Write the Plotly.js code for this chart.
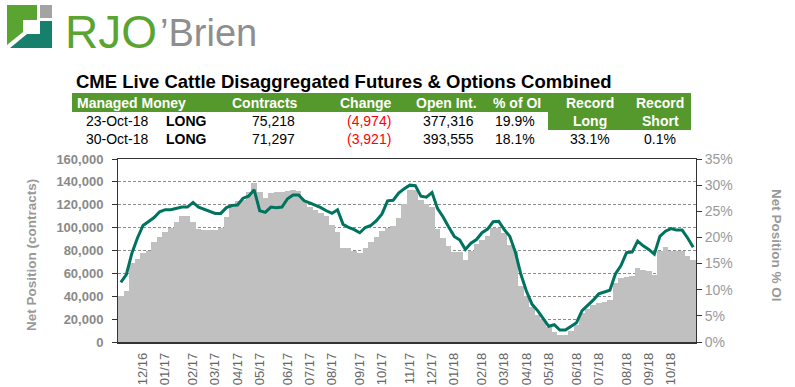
<!DOCTYPE html>
<html>
<head>
<meta charset="utf-8">
<script src="https://cdn.plot.ly/plotly-3.0.1.min.js"></script>
<style>
html,body{margin:0;padding:0;background:#fff;}
#chart{width:795px;height:387px;}
</style>
</head>
<body>
<div id="chart"></div>
<script>
// ---------- DATA ----------
const weekDates = [
'2016-11-08','2016-11-15','2016-11-22','2016-11-29','2016-12-06','2016-12-13','2016-12-20','2016-12-27',
'2017-01-03','2017-01-10','2017-01-17','2017-01-24','2017-01-31','2017-02-07','2017-02-14','2017-02-21','2017-02-28',
'2017-03-07','2017-03-14','2017-03-21','2017-03-28','2017-04-04','2017-04-11','2017-04-18','2017-04-25',
'2017-05-02','2017-05-09','2017-05-16','2017-05-23','2017-05-30','2017-06-06','2017-06-13','2017-06-20','2017-06-27',
'2017-07-04','2017-07-11','2017-07-18','2017-07-25','2017-08-01','2017-08-08','2017-08-15','2017-08-22','2017-08-29',
'2017-09-05','2017-09-12','2017-09-19','2017-09-26','2017-10-03','2017-10-10','2017-10-17','2017-10-24','2017-10-31',
'2017-11-07','2017-11-14','2017-11-21','2017-11-28','2017-12-05','2017-12-12','2017-12-19','2017-12-26',
'2018-01-02','2018-01-09','2018-01-16','2018-01-23','2018-01-30','2018-02-06','2018-02-13','2018-02-20','2018-02-27',
'2018-03-06','2018-03-13','2018-03-20','2018-03-27','2018-04-03','2018-04-10','2018-04-17','2018-04-24',
'2018-05-01','2018-05-08','2018-05-15','2018-05-22','2018-05-29','2018-06-05','2018-06-12','2018-06-19','2018-06-26',
'2018-07-03','2018-07-10','2018-07-17','2018-07-24','2018-07-31','2018-08-07','2018-08-14','2018-08-21','2018-08-28',
'2018-09-04','2018-09-11','2018-09-18','2018-09-25','2018-10-02','2018-10-09','2018-10-16','2018-10-23','2018-10-30'
];

// Net position (contracts)
const netContracts = [
40500,45000,69000,73000,78000,80000,87000,92000,
96000,100000,105000,110000,110000,105000,99000,98000,98000,
98000,100000,109000,118000,123000,124000,131000,139000,
131000,126000,130000,131000,131000,132000,133000,132000,124000,
118000,115000,113000,110000,102000,96000,82000,82000,80000,
78000,82000,87000,92000,97000,100000,101000,108000,121000,
133000,133000,124000,121000,118000,99000,91000,84000,
79000,79000,72000,80000,86000,89000,93000,100000,100000,
95000,85000,80000,49000,40000,31000,24000,20000,
13000,9000,6000,6000,10000,15000,25000,29000,32000,
34000,35000,37000,52000,56000,57000,58000,65000,63000,
62000,59000,80000,83000,80000,80000,80000,75218,71297
];

// Net position as % of open interest
const pctOI = [
11.4,12.9,17.0,19.9,22.3,23.0,23.8,24.9,
25.3,25.3,25.6,25.8,25.8,26.7,25.8,25.4,24.9,
24.6,24.6,25.7,26.1,26.2,27.5,27.9,29.1,
25.1,24.8,25.8,25.7,25.8,27.4,28.1,28.1,27.0,
26.6,26.2,25.7,25.1,24.6,25.3,22.5,21.9,21.5,
20.9,21.9,22.3,23.2,24.5,27.0,27.1,28.5,29.3,
30.0,29.9,27.9,27.7,28.6,25.5,23.9,22.0,
20.2,19.5,17.7,18.9,19.6,20.9,21.6,23.0,23.1,
21.5,20.2,17.2,12.9,9.7,7.2,6.0,4.5,
3.0,3.3,2.3,2.3,3.0,3.7,6.0,7.0,8.0,
9.2,9.5,9.9,13.0,14.6,17.1,17.2,19.3,18.4,
17.7,16.8,20.2,21.2,21.7,21.4,21.4,19.9,18.1
];

const tickDates = ['2016-12-06','2017-01-03','2017-02-07','2017-03-07','2017-04-04','2017-05-02','2017-06-06','2017-07-04','2017-08-01','2017-09-05','2017-10-03','2017-11-07','2017-12-05','2018-01-02','2018-02-06','2018-03-06','2018-04-03','2018-05-01','2018-06-05','2018-07-03','2018-08-07','2018-09-04','2018-10-02'];
const tickLabels = ['12/16','01/17','02/17','03/17','04/17','05/17','06/17','07/17','08/17','09/17','10/17','11/17','12/17','01/18','02/18','03/18','04/18','05/18','06/18','07/18','08/18','09/18','10/18'];

// Table
const chartTitle = 'CME Live Cattle Disaggregated Futures & Options Combined';
const tableHeaders = ['Managed Money','Contracts','Change','Open Int.','% of OI'];
const recordHeaders = [['Record','Long'],['Record','Short']];
const rowDates = ['23-Oct-18','30-Oct-18'];
const rowSide = ['LONG','LONG'];
const rowContracts = ['75,218','71,297'];
const rowChange = ['(4,974)','(3,921)'];
const rowOpenInt = ['377,316','393,555'];
const rowPct = ['19.9%','18.1%'];
const recordValues = ['33.1%','0.1%'];

// ---------- LAYOUT HELPERS ----------
const W = 795, H = 387;
const M = {l:118, r:99, t:159, b:45};
const PW = W - M.l - M.r, PH = H - M.t - M.b;
const px = x => (x - M.l) / PW;
const py = y => (H - M.b - y) / PH;

const FONT = 'Liberation Sans, Arial, Helvetica, sans-serif';
const GREEN = '#55982b';

const shapes = [];
const annotations = [];
function rect(x0,y0,x1,y1,color){
  shapes.push({type:'rect',xref:'paper',yref:'paper',x0:px(x0),x1:px(x1),y0:py(y0),y1:py(y1),fillcolor:color,line:{width:0},layer:'above'});
}
function poly(pts,color){
  const d = 'M' + pts.map(p => px(p[0]) + ',' + py(p[1])).join(' L') + ' Z';
  shapes.push({type:'path',xref:'paper',yref:'paper',path:d,fillcolor:color,line:{width:0},layer:'above'});
}
function txt(text,x,y,opt){
  opt = opt || {};
  annotations.push({
    text:text, xref:'paper', yref:'paper', x:px(x), y:py(y),
    xanchor:opt.xa || 'center', yanchor:'middle', showarrow:false,
    textangle: opt.angle || 0,
    font:{family:opt.family || FONT, size:opt.size || 14, color:opt.color || '#000', weight:opt.weight || 'normal'}
  });
}

// Logo
poly([[7,5],[37,5],[37,20],[23,20],[23,32],[7,45]], '#5aa532');
rect(40,5,52,18,'#a3a3a3');
poly([[10,48],[27,34],[40,34],[40,21],[52,21],[52,48]], '#17806c');
txt('RJO',63,32,{xa:'left',size:46,color:'#5aa532'});
txt('\u2019Brien',158,33,{xa:'left',size:38,color:'#8e8e8e'});

// Title
txt(chartTitle,74,81,{xa:'left',size:18.5,weight:'bold'});

// Table header
rect(72,93,691,112,GREEN);
rect(548,93,691,130,GREEN);
const hdrX = [75,265,366,447,517];
tableHeaders.forEach((h,i)=>txt(h,hdrX[i],103,{xa:i===0?'left':'center',size:14,weight:'bold',color:'#fff'}));
const recX = [590,660];
recordHeaders.forEach((r,i)=>{
  txt(r[0],recX[i],103,{size:14,weight:'bold',color:'#fff'});
  txt(r[1],recX[i],121,{size:14,weight:'bold',color:'#fff'});
});
const rowY = [121,139];
rowDates.forEach((d,i)=>{
  txt(d,117,rowY[i],{size:14});
  txt(rowSide[i],186,rowY[i],{size:14,weight:'bold'});
  txt(rowContracts[i],273,rowY[i],{size:14});
  txt(rowChange[i],369,rowY[i],{size:14,color:'#ff0000'});
  txt(rowOpenInt[i],448,rowY[i],{size:14});
  txt(rowPct[i],515,rowY[i],{size:14});
});
recordValues.forEach((v,i)=>txt(v,recX[i],139,{size:14}));

// Axis titles
txt('Net Position (contracts)',31,255,{angle:-90,size:13.5,weight:'bold',color:'#999'});
txt('Net Position % OI',777,245,{angle:90,size:13.5,weight:'bold',color:'#999'});

// ---------- TRACES ----------
const bars = {
  type:'bar', x:weekDates, y:netContracts, yaxis:'y',
  marker:{color:'#c0c0c0', line:{width:0}}, hoverinfo:'x+y'
};
const line = {
  type:'scatter', mode:'lines', x:weekDates, y:pctOI, yaxis:'y2',
  line:{color:'#00735f', width:3}
};

const layout = {
  width:W, height:H, margin:M,
  paper_bgcolor:'#fff', plot_bgcolor:'#fff',
  showlegend:false, bargap:0,
  font:{family:FONT},
  xaxis:{
    type:'date', range:['2016-11-04 12:00','2018-11-02 12:00'],
    tickvals:tickDates, ticktext:tickLabels, tickangle:-90,
    ticks:'', showgrid:false, showline:true, linecolor:'#333', linewidth:1.5, mirror:true,
    tickfont:{size:13, color:'#666'}, ticklabelstandoff:4, fixedrange:true
  },
  yaxis:{
    range:[0,160000], dtick:20000, tickformat:',d',
    showline:true, linecolor:'#333', linewidth:1, ticks:'outside', ticklen:5, tickcolor:'#333',
    showgrid:true, gridcolor:'#8c8c8c', griddash:'3px,2px', gridwidth:1, zeroline:false,
    tickfont:{size:13, color:'#8a8a8a', weight:'bold'}, ticklabelstandoff:6
  },
  yaxis2:{
    overlaying:'y', side:'right', range:[0,35], dtick:5, ticksuffix:'%',
    showline:true, linecolor:'#333', ticks:'outside', ticklen:5, tickcolor:'#333',
    showgrid:false, zeroline:false,
    tickfont:{size:14, color:'#9a9a9a'}
  },
  shapes:shapes, annotations:annotations
};

Plotly.newPlot('chart',[bars,line],layout,{displayModeBar:false, staticPlot:true});
</script>
</body>
</html>
